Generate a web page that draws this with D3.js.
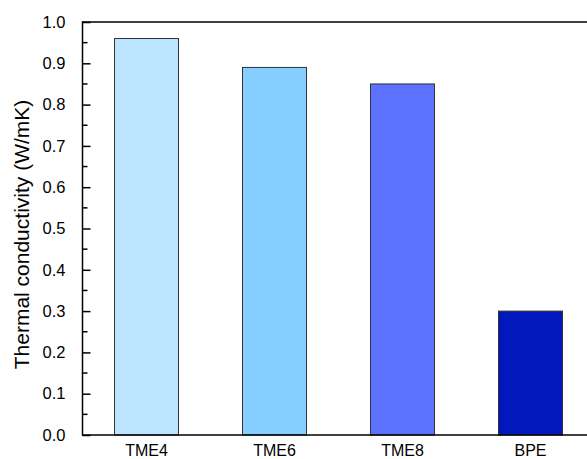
<!DOCTYPE html>
<html>
<head>
<meta charset="utf-8">
<script src="https://cdn.jsdelivr.net/npm/d3@7"></script>
<style>
  html, body { margin: 0; padding: 0; background: #fff; }
  svg { display: block; }
  text { font-family: "Liberation Sans", Arial, sans-serif; fill: #000; }
</style>
</head>
<body>
<svg id="chart" width="587" height="459"></svg>
<script>
const categories = ["TME4", "TME6", "TME8", "BPE"];
const values = [0.96, 0.89, 0.85, 0.30];
const colors = ["#BBE5FF", "#84CFFF", "#5C72FF", "#0018BC"];
const yTicks = [0.0, 0.1, 0.2, 0.3, 0.4, 0.5, 0.6, 0.7, 0.8, 0.9, 1.0];
const yTitle = "Thermal conductivity (W/mK)";

const svg = d3.select("#chart");
const pLeft = 82.5, pTop = 22, pBottom = 435, pRight = 594.5;

const x = d3.scaleBand().domain(categories).range([pLeft, pRight]).paddingInner(0.5).paddingOuter(0.25);
const y = d3.scaleLinear().domain([0, 1]).range([pBottom, pTop]);

// bars
svg.append("g").selectAll("rect").data(categories).join("rect")
  .attr("x", d => x(d))
  .attr("y", (d, i) => y(values[i]))
  .attr("width", x.bandwidth())
  .attr("height", (d, i) => y(0) - y(values[i]))
  .attr("fill", (d, i) => colors[i])
  .attr("stroke", "#333")
  .attr("stroke-width", 1);

// minor ticks
const minor = d3.range(0.05, 1.0, 0.1);
svg.append("g").selectAll("line").data(minor).join("line")
  .attr("x1", pLeft).attr("x2", pLeft + 5)
  .attr("y1", d => y(d)).attr("y2", d => y(d))
  .attr("stroke", "#000").attr("stroke-width", 1.5);

// y axis
const yAxis = d3.axisLeft(y).tickValues(yTicks).tickFormat(d3.format(".1f"))
  .tickSizeInner(-8).tickSizeOuter(0).tickPadding(9 + 8);
const gy = svg.append("g").attr("transform", `translate(${pLeft},0)`).call(yAxis);
gy.select(".domain").remove();
gy.selectAll(".tick line").attr("stroke", "#000").attr("stroke-width", 1.5);
gy.selectAll(".tick text").style("font-size", "16.5px").style("font-family", "Liberation Sans, Arial, sans-serif");

// x axis
const xAxis = d3.axisBottom(x).tickSize(0).tickPadding(0);
const gx = svg.append("g").attr("transform", `translate(0,${pBottom})`).call(xAxis);
gx.select(".domain").remove();
gx.selectAll(".tick text").attr("dy", null).attr("y", 21)
  .style("font-size", "16px").style("font-family", "Liberation Sans, Arial, sans-serif");

// frame
svg.append("line").attr("x1", pLeft).attr("x2", 600).attr("y1", pBottom).attr("y2", pBottom)
  .attr("stroke", "#000").attr("stroke-width", 1.5);
svg.append("line").attr("x1", pLeft).attr("x2", 600).attr("y1", pTop).attr("y2", pTop)
  .attr("stroke", "#000").attr("stroke-width", 1.5);
svg.append("line").attr("x1", pLeft).attr("x2", pLeft).attr("y1", pTop - 0.75).attr("y2", pBottom + 0.75)
  .attr("stroke", "#000").attr("stroke-width", 1.5);

// y title
svg.append("text")
  .attr("transform", `translate(29,${(pTop + pBottom) / 2 + 6}) rotate(-90)`)
  .attr("text-anchor", "middle")
  .style("font-size", "21px")
  .text(yTitle);
</script>
</body>
</html>
